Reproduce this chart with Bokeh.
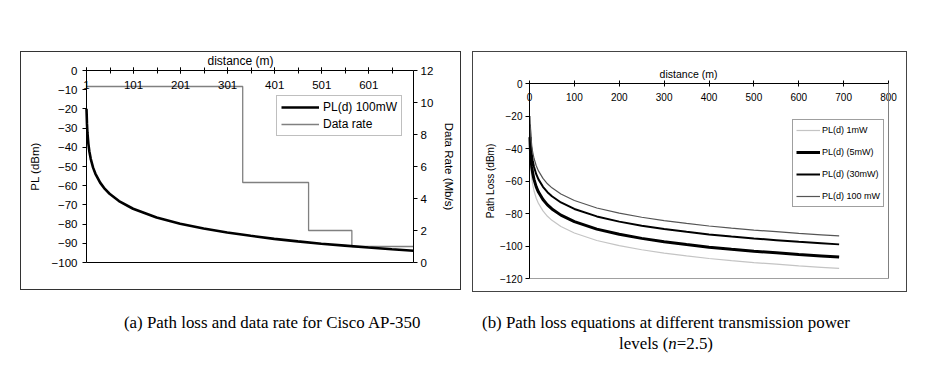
from bokeh.plotting import figure
from bokeh.models import (Range1d, LinearAxis, FixedTicker, Legend, LegendItem,
                          Label, Div)
from bokeh.embed import file_html
from bokeh.resources import INLINE

SANS = "Liberation Sans"
SERIF = "Liberation Serif"

# ---------------- data: panel (a) ----------------
dist_a = [1, 2, 3, 5, 7, 10, 15, 20, 30, 40, 50, 70, 100, 150, 200, 250, 300,
          350, 400, 450, 500, 550, 600, 650, 696]
pl_100mw_a = [-20.0, -27.8, -32.4, -38.2, -42.0, -46.0, -50.6, -53.8, -58.4,
              -61.7, -64.2, -68.0, -72.0, -76.6, -79.8, -82.3, -84.4, -86.1,
              -87.7, -89.0, -90.2, -91.2, -92.2, -93.1, -93.9]
rate_dist = [1, 333, 473, 565, 696]
rate_mbps = [11, 5, 2, 1, 1]
x_ticks_a = [1, 101, 201, 301, 401, 501, 601]
x_minor_a = [1, 51, 101, 151, 201, 251, 301, 351, 401, 451, 501, 551, 601, 651]
pl_ticks_a = [0, -10, -20, -30, -40, -50, -60, -70, -80, -90, -100]
rate_ticks = [0, 2, 4, 6, 8, 10, 12]

# ---------------- data: panel (b) ----------------
dist_b = [1, 2, 3, 5, 7, 10, 15, 20, 30, 40, 50, 70, 100, 150, 200, 250, 300,
          350, 400, 450, 500, 550, 600, 650, 690]
pl_1mw = [-40.0, -47.8, -52.4, -58.2, -62.0, -66.0, -70.6, -73.8, -78.4, -81.7,
          -84.2, -88.0, -92.0, -96.6, -99.8, -102.3, -104.4, -106.1, -107.7,
          -109.0, -110.2, -111.2, -112.2, -113.1, -113.8]
pl_5mw = [-33.0, -40.8, -45.4, -51.2, -55.0, -59.0, -63.6, -66.8, -71.4, -74.7,
          -77.2, -81.0, -85.0, -89.6, -92.8, -95.3, -97.4, -99.1, -100.7,
          -102.0, -103.2, -104.2, -105.2, -106.1, -106.8]
pl_30mw = [-25.2, -33.0, -37.6, -43.4, -47.2, -51.2, -55.8, -59.0, -63.6, -66.9,
           -69.4, -73.2, -77.2, -81.8, -85.0, -87.5, -89.6, -91.3, -92.9,
           -94.2, -95.4, -96.4, -97.4, -98.3, -99.0]
pl_100mw = [-20.0, -27.8, -32.4, -38.2, -42.0, -46.0, -50.6, -53.8, -58.4,
            -61.7, -64.2, -68.0, -72.0, -76.6, -79.8, -82.3, -84.4, -86.1,
            -87.7, -89.0, -90.2, -91.2, -92.2, -93.1, -93.8]
x_ticks_b = [0, 100, 200, 300, 400, 500, 600, 700, 800]
y_ticks_b = [0, -20, -40, -60, -80, -100, -120]

caption_a = "(a) Path loss and data rate for Cisco AP-350"
caption_b1 = "(b) Path loss equations at different transmission power"
caption_b2 = "levels (<i>n</i>=2.5)"


# ---------------- layout helpers ----------------
def padded(lo, hi, pad_lo_px, pad_hi_px, span_px):
    """Range that keeps [lo, hi] on a plot-area span of span_px pixels while
    the canvas adds pad_lo_px / pad_hi_px pixels of room on either side."""
    upp = (hi - lo) / span_px
    return Range1d(lo - pad_lo_px * upp, hi + pad_hi_px * upp)


def style_axis(ax, size, color="black"):
    ax.major_label_text_font = SANS
    ax.major_label_text_font_size = size
    ax.major_label_text_color = "black"
    ax.axis_label_text_font = SANS
    ax.axis_label_text_font_size = size
    ax.axis_label_text_font_style = "normal"
    ax.axis_label_text_color = "black"
    ax.axis_line_color = color
    ax.major_tick_line_color = color
    ax.minor_tick_line_color = color
    ax.minor_tick_in = 0
    ax.minor_tick_out = 0


def border_axis(color, **kw):
    ax = LinearAxis(ticker=FixedTicker(ticks=[]), **kw)
    ax.axis_line_color = color
    ax.major_tick_in = 0
    ax.major_tick_out = 0
    ax.minor_tick_in = 0
    ax.minor_tick_out = 0
    ax.major_label_text_font_size = "0px"
    return ax


def place(left, top, extra=None):
    st = {"position": "absolute", "left": f"{left}px", "top": f"{top}px"}
    if extra:
        st.update(extra)
    return st


def base_fig(w, h, xr, yr, left, top, border):
    p = figure(width=w, height=h, output_backend="svg", toolbar_location=None,
               x_range=xr, y_range=yr, x_axis_location=None,
               y_axis_location=None, min_border=0,
               styles=place(left, top, {"border": f"1px solid {border}"}))
    p.title.visible = False
    p.xgrid.visible = False
    p.ygrid.visible = False
    p.outline_line_color = None
    p.background_fill_color = "white"
    p.border_fill_color = "white"
    return p


# ---------------- panel (a) ----------------
# canvas 441x239; plot area 65px from left, 49 from right, 18 top, 29 bottom
pa = base_fig(441, 239,
              padded(1, 696, 65, 49, 441 - 65 - 49),
              padded(-100, 0, 29, 18, 239 - 18 - 29),
              20, 51, "#333333")
pa.extra_y_ranges = {"rate": padded(0, 12, 29, 18, 239 - 18 - 29)}

xa = LinearAxis(fixed_location=0, bounds=(1, 696),
                ticker=FixedTicker(ticks=x_ticks_a, minor_ticks=x_minor_a))
style_axis(xa, "11.5px")
xa.major_label_standoff = 7
xa.major_tick_in = 3
xa.major_tick_out = 3
xa.minor_tick_in = 3
xa.minor_tick_out = 3
pa.add_layout(xa, "below")
pa.add_layout(border_axis("black", fixed_location=-100, bounds=(1, 696)), "below")

ya = LinearAxis(fixed_location=1, bounds=(-100, 0),
                ticker=FixedTicker(ticks=pl_ticks_a), axis_label="PL (dBm)")
style_axis(ya, "11.5px")
ya.major_tick_in = 0
ya.major_tick_out = 4
ya.major_label_standoff = 5
ya.axis_label_standoff = 8
pa.add_layout(ya, "left")

ra = LinearAxis(y_range_name="rate", fixed_location=696, bounds=(0, 12),
                ticker=FixedTicker(ticks=rate_ticks),
                axis_label="Data Rate (Mb/s)")
style_axis(ra, "11.5px")
ra.major_tick_in = 0
ra.major_tick_out = 4
ra.major_label_standoff = 3
ra.axis_label_standoff = 7
pa.add_layout(ra, "right")

pa.add_layout(Label(x=219, y=231, x_units="screen", y_units="screen",
                    text="distance (m)", text_align="center",
                    text_baseline="middle", text_font=SANS,
                    text_font_size="12px", text_color="black"))

r_rate = pa.step(x=rate_dist, y=rate_mbps, mode="after", y_range_name="rate",
                 line_color="#808080", line_width=1.3)
r_pl = pa.line(x=dist_a, y=pl_100mw_a, line_color="black", line_width=2.6)

leg_a = Legend(items=[LegendItem(label="PL(d) 100mW", renderers=[r_pl]),
                      LegendItem(label="Data rate", renderers=[r_rate])],
               location=(255, 155), glyph_width=38, glyph_height=14,
               label_height=14, label_standoff=4, padding=4, spacing=3,
               margin=0, border_line_color="#808080",
               label_text_font=SANS, label_text_font_size="12px",
               label_text_color="black", background_fill_alpha=1)
pa.add_layout(leg_a)

# ---------------- panel (b) ----------------
# canvas 435x241; plot area 56px from left, 20 from right, 31 top, 15 bottom
pb = base_fig(435, 241,
              padded(0, 800, 56, 20, 435 - 56 - 20),
              padded(-120, 0, 15, 31, 241 - 31 - 15),
              472, 51, "#444444")

xb = LinearAxis(fixed_location=0, bounds=(0, 800),
                ticker=FixedTicker(ticks=x_ticks_b))
style_axis(xb, "10px")
xb.major_label_standoff = 6
xb.major_tick_in = 3
xb.major_tick_out = 3
pb.add_layout(xb, "below")
pb.add_layout(border_axis("#a0a0a0", fixed_location=-120, bounds=(0, 800)), "below")
pb.add_layout(border_axis("#808080", fixed_location=800, bounds=(-120, 0)), "right")

yb = LinearAxis(fixed_location=0, bounds=(-120, 0),
                ticker=FixedTicker(ticks=y_ticks_b), axis_label="Path Loss (dBm)")
style_axis(yb, "10px")
yb.major_tick_in = 0
yb.major_tick_out = 4
yb.major_label_standoff = 3
yb.axis_label_standoff = 1
pb.add_layout(yb, "left")

pb.add_layout(Label(x=215, y=220, x_units="screen", y_units="screen",
                    text="distance (m)", text_align="center",
                    text_baseline="middle", text_font=SANS,
                    text_font_size="10.5px", text_color="black"))

r1 = pb.line(x=dist_b, y=pl_1mw, line_color="#c4c4c4", line_width=1.2)
r5 = pb.line(x=dist_b, y=pl_5mw, line_color="black", line_width=3)
r30 = pb.line(x=dist_b, y=pl_30mw, line_color="black", line_width=2)
r100 = pb.line(x=dist_b, y=pl_100mw, line_color="#555555", line_width=1.2)

leg_b = Legend(items=[LegendItem(label="PL(d) 1mW", renderers=[r1]),
                      LegendItem(label="PL(d) (5mW)", renderers=[r5]),
                      LegendItem(label="PL(d) (30mW)", renderers=[r30]),
                      LegendItem(label="PL(d) 100 mW", renderers=[r100])],
               location=(319, 86), glyph_width=24, glyph_height=14,
               label_height=14, label_standoff=2, padding=3, spacing=8,
               margin=0, border_line_color="#404040",
               label_text_font=SANS, label_text_font_size="9px",
               label_text_color="black", background_fill_alpha=1)
pb.add_layout(leg_b)

# ---------------- captions ----------------
cap_style = "font-family:'Liberation Serif';font-size:16.9px;color:black;line-height:21px;"
div_a = Div(text=f'<div style="{cap_style}white-space:nowrap;">{caption_a}</div>',
            width=340, height=24, margin=0, styles=place(124, 312))
div_b = Div(text=f'<div style="{cap_style}text-align:center;width:400px;">'
                 f'{caption_b1}<br>{caption_b2}</div>',
            width=400, height=45, margin=0, styles=place(466, 312))

open("out.html", "w").write(file_html([pa, pb, div_a, div_b], INLINE))
